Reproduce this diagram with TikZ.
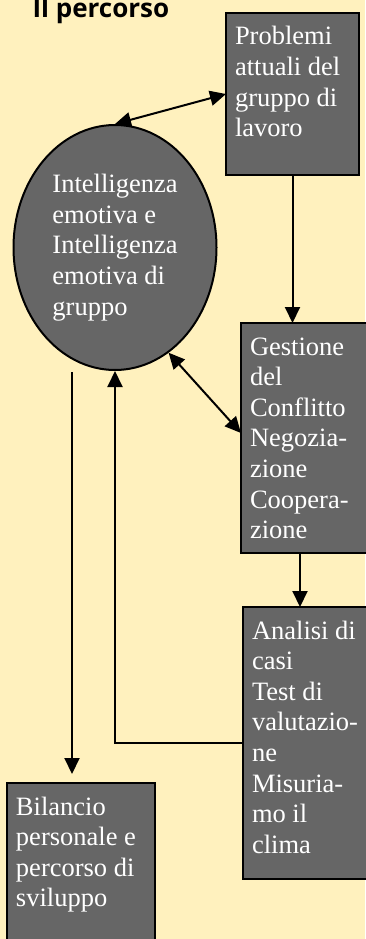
\documentclass[tikz,border=0pt]{standalone}
\usepackage{fontspec}
\setmainfont{Liberation Serif}
\newfontfamily\titlefont{Open Sans}
\usetikzlibrary{arrows.meta,positioning,shapes,calc}
\definecolor{bgyellow}{HTML}{FFF1BE}
\definecolor{boxgray}{HTML}{666666}

\begin{document}
\begin{tikzpicture}[x=1pt,y=1pt,>={Triangle[length=16pt,width=15pt]}]
    \tikzstyle{box}=[rectangle,draw,fill=boxgray,line width=2.5pt,outer sep=0pt,anchor=north west,align=flush left,inner xsep=9pt,inner ysep=0pt,text=white,font=\fontsize{26.5}{30.6}\selectfont,text height=32pt]
    \tikzstyle{conn}=[line width=2pt]
    \fill[bgyellow] (0,0) rectangle (365,-939);
    \useasboundingbox (0,0) rectangle (365,-939);
    \node[anchor=base west,font=\titlefont\bfseries\fontsize{26}{30}\selectfont] (title) at (29,-18) {Il percorso};
    \node[ellipse,draw,fill=boxgray,line width=2pt,minimum width=203pt,minimum height=245pt,inner sep=0pt,align=flush left,text=white,font=\fontsize{26.5}{30.6}\selectfont] (ell) at (115,-247.5) {Intelligenza\\emotiva e\\Intelligenza\\emotiva di\\gruppo};
    \node[box,text width=115pt,text depth=130pt] (probl) at (226,-13) {Problemi\\attuali del\\gruppo di\\lavoro};
    \node[box,text width=121pt,text depth=198pt] (gest) at (241,-323) {Gestione\\del\\Conflitto\\Negozia-\\zione\\Coopera-\\zione};
    \node[box,text width=121pt,text depth=240pt] (anal) at (243,-607) {Analisi di\\casi\\Test di\\valutazio-\\ne\\Misuria-\\mo il\\clima};
    \node[box,text width=130pt,text depth=154pt] (bil) at (7,-783) {Bilancio\\personale e\\percorso di\\sviluppo};
    \coordinate (drop) at (72,-372);
    \draw[conn,<->] (ell.north) -- (probl.west);
    \draw[conn,->] (probl.south) -- (probl.south |- gest.north);
    \draw[conn,<->] (ell.-63) -- ([yshift=5pt]gest.west);
    \draw[conn,->] ([xshift=59pt]gest.south west) -- ([xshift=59pt]gest.south west |- anal.north);
    \draw[conn,->] (anal.west) -| (ell.south);
    \draw[conn,->,shorten >=9pt] (drop) -- (drop |- bil.north);
\end{tikzpicture}
\end{document}
